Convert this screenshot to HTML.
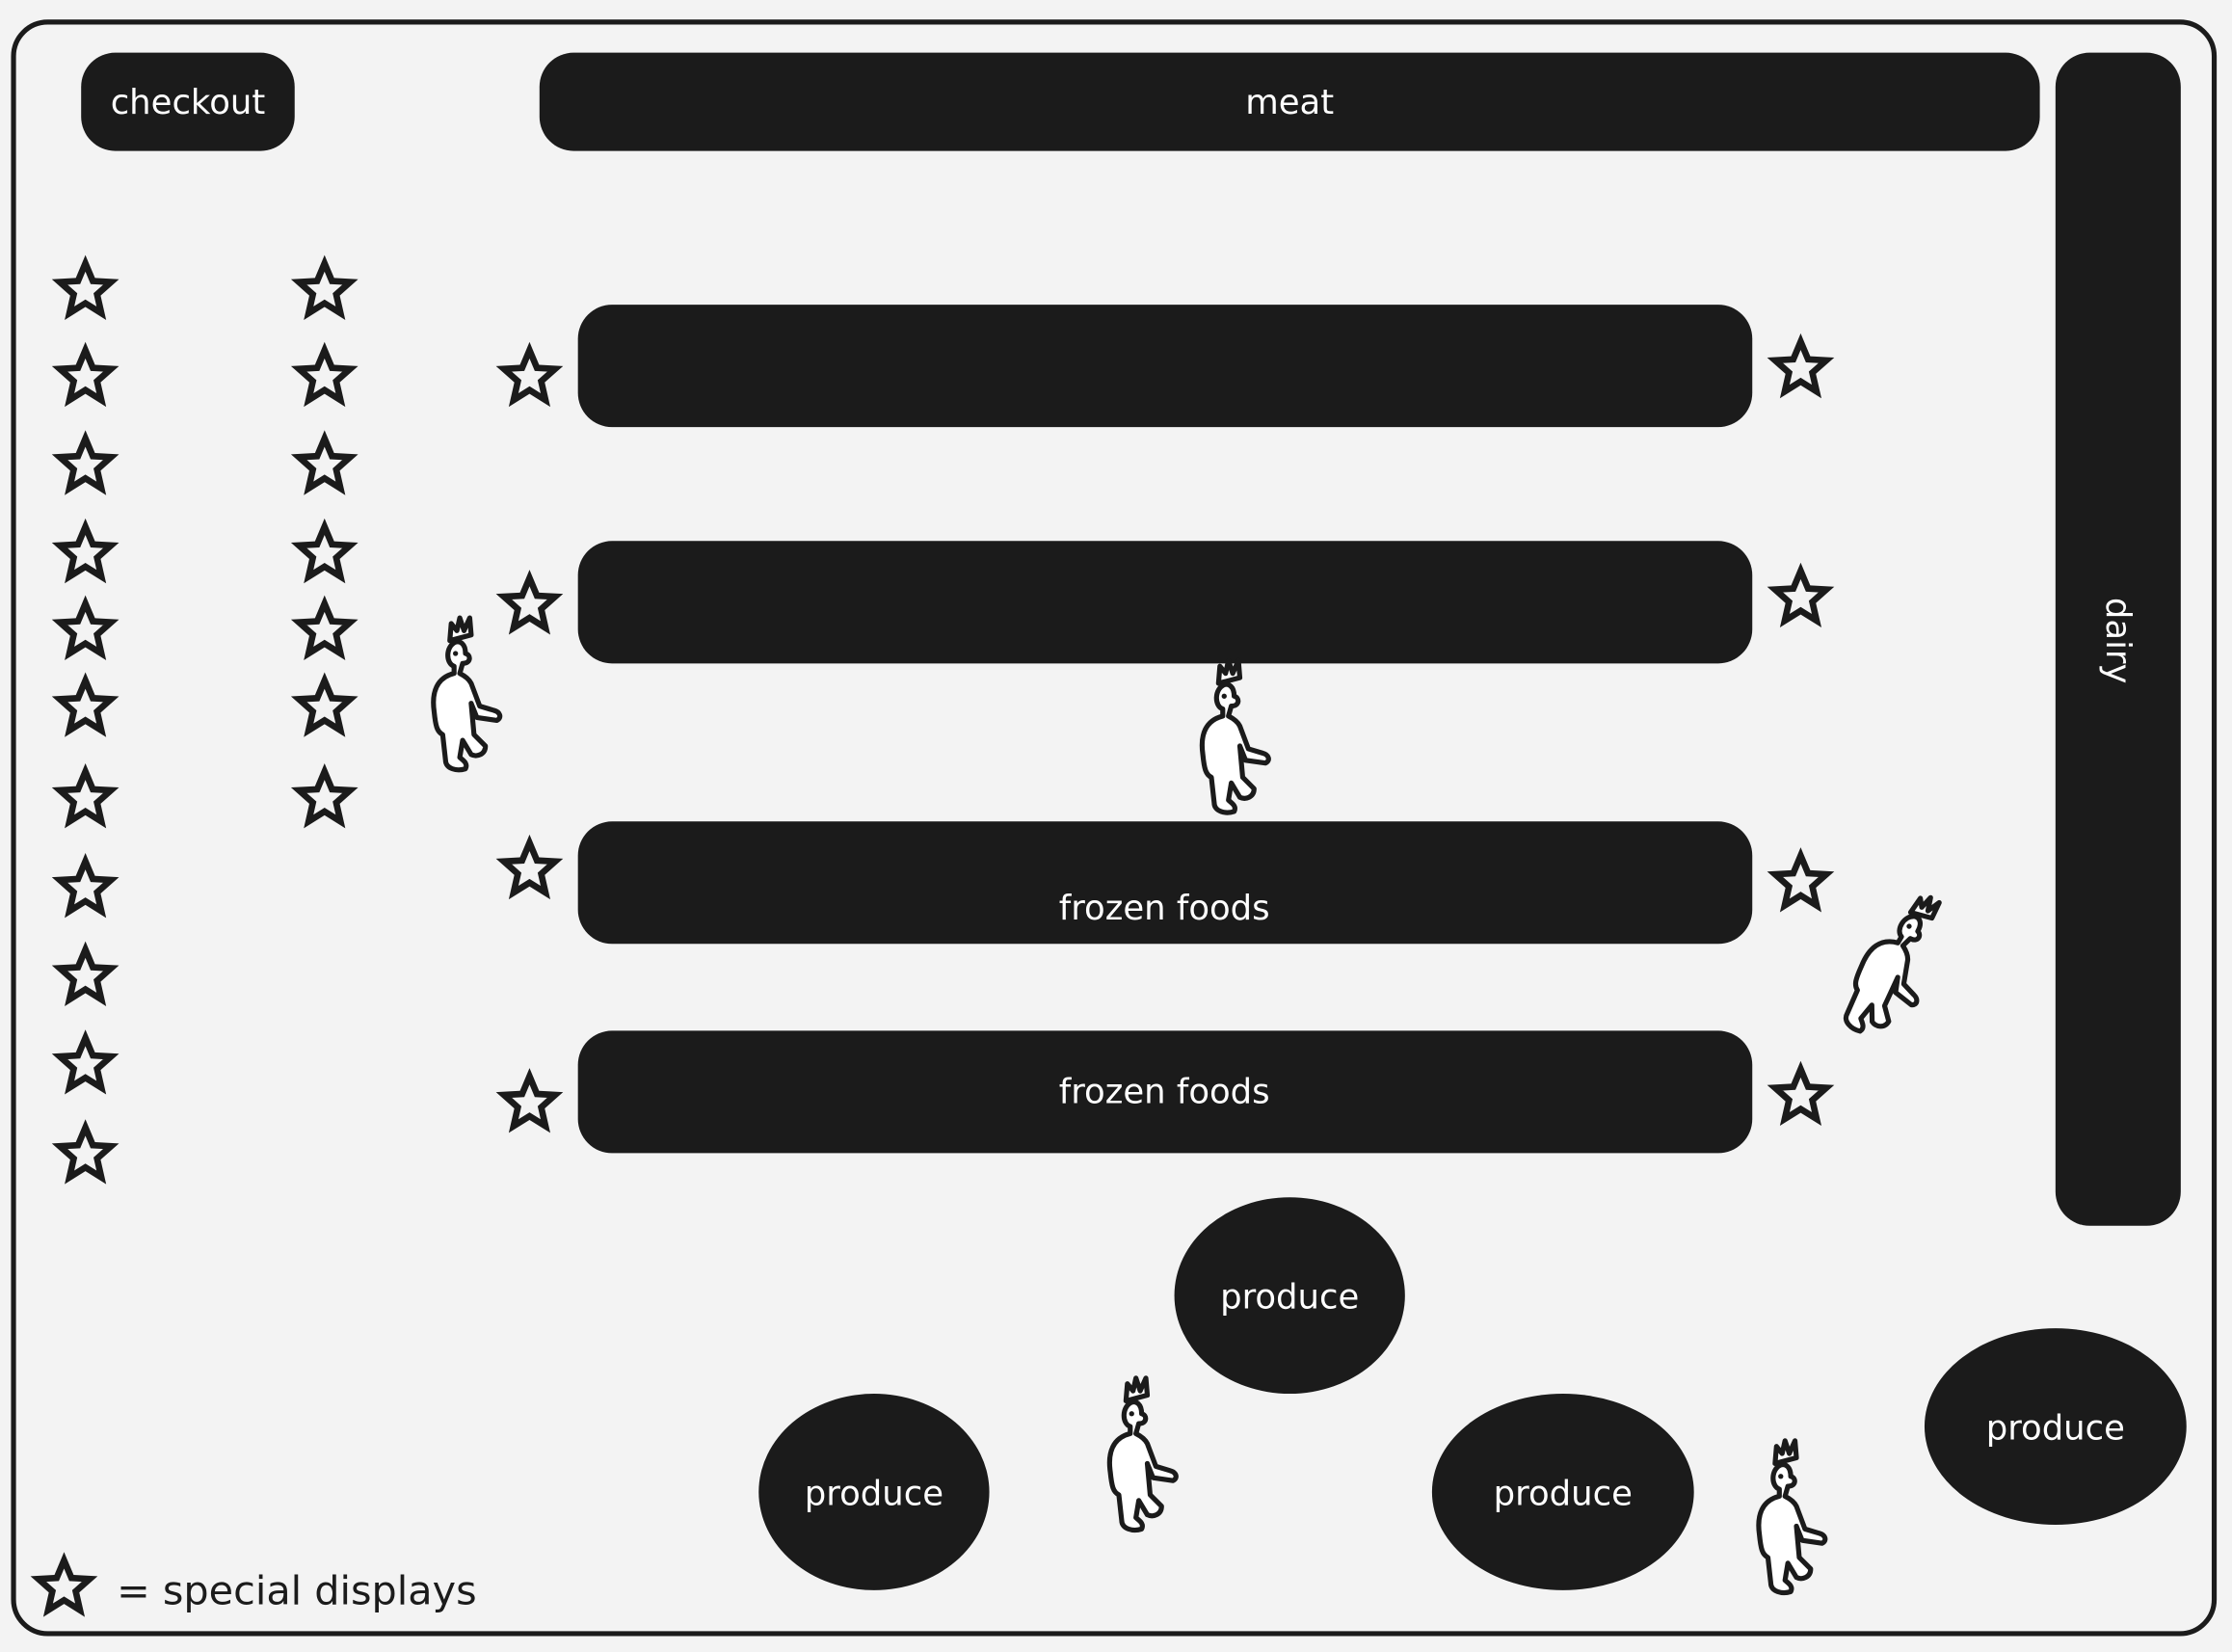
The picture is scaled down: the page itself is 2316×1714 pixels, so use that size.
<!DOCTYPE html>
<html><head><meta charset="utf-8"><style>
html,body{margin:0;padding:0;background:#f3f3f3}
svg{display:block}
text{font-family:"DejaVu Sans","Liberation Sans",sans-serif;fill:#fff;font-size:24px;text-anchor:middle}
</style></head><body>
<svg width="2316" height="1714" viewBox="0 0 1568 1160.4" preserveAspectRatio="none" xmlns="http://www.w3.org/2000/svg">
<defs>
<path id="st" d="M0,-19 L5.2,-6.6 L18,-5.9 L8.2,2.8 L11.2,16 L0,9 L-11.2,16 L-8.2,2.8 L-18,-5.9 L-5.2,-6.6 Z" fill="none" stroke="#1b1b1b" stroke-width="4.5" stroke-linejoin="miter"/>
<g id="fig" fill="#fff" stroke="#1b1b1b" stroke-width="3.5" stroke-linejoin="round" stroke-linecap="round">
<path d="M-8,-52 L-9,-40 L6,-44 L5,-56 L1,-47 L-2,-56 L-4,-47 Z"/>
<path d="M-5,-39 C-12,-36 -12,-24 -6,-22 L-6,-17 C-18,-14 -22,-4 -20,10 C-19,20 -18,24 -14,26 L-12,44 C-12,50 -4,52 2,50 C4,46 0,44 -2,42 L0,30 L6,40 C10,42 16,40 16,34 L8,26 L6,4 L10,14 L24,16 C28,14 26,10 22,9 L12,6 L6,-10 C4,-14 0,-16 -2,-17 L0,-24 C6,-24 6,-30 2,-31 C2,-38 -2,-40 -5,-39 Z"/>
<circle cx="-5" cy="-31" r="1.8" fill="#1b1b1b" stroke="none"/>
</g>
</defs>
<rect width="1568" height="1160.4" fill="#f3f3f3"/>
<rect x="9.5" y="15.5" width="1546" height="1132" rx="24" fill="#f3f3f3" stroke="#1b1b1b" stroke-width="3.5"/>
<g fill="#1b1b1b">
<rect x="57" y="37" width="150" height="69" rx="24"/>
<rect x="379" y="37" width="1054" height="69" rx="24"/>
<rect x="1444" y="37" width="88" height="824" rx="24"/>
<rect x="406" y="214" width="825" height="86" rx="24"/>
<rect x="406" y="380" width="825" height="86" rx="24"/>
<rect x="406" y="577" width="825" height="86" rx="24"/>
<rect x="406" y="724" width="825" height="86" rx="24"/>
<ellipse cx="906" cy="910" rx="81" ry="69"/>
<ellipse cx="614" cy="1048" rx="81" ry="69"/>
<ellipse cx="1098" cy="1048" rx="92" ry="69"/>
<ellipse cx="1444" cy="1002" rx="92" ry="69"/>
</g>
<text x="132" y="80">checkout</text>
<text x="906" y="80">meat</text>
<text x="1488" y="450" transform="rotate(90 1488 450)" dy="8">dairy</text>
<text x="818" y="646">frozen foods</text>
<text x="818" y="775">frozen foods</text>
<text x="906" y="919">produce</text>
<text x="614" y="1057">produce</text>
<text x="1098" y="1057">produce</text>
<text x="1444" y="1011">produce</text>
<g>
<use href="#st" x="60" y="204"/><use href="#st" x="60" y="265"/><use href="#st" x="60" y="327"/><use href="#st" x="60" y="389"/><use href="#st" x="60" y="443"/><use href="#st" x="60" y="497"/><use href="#st" x="60" y="561"/><use href="#st" x="60" y="624"/><use href="#st" x="60" y="686"/><use href="#st" x="60" y="748"/><use href="#st" x="60" y="811"/>
<use href="#st" x="228" y="204"/><use href="#st" x="228" y="265"/><use href="#st" x="228" y="327"/><use href="#st" x="228" y="389"/><use href="#st" x="228" y="443"/><use href="#st" x="228" y="497"/><use href="#st" x="228" y="561"/>
<use href="#st" x="372" y="265"/><use href="#st" x="372" y="425"/><use href="#st" x="372" y="611"/><use href="#st" x="372" y="775"/>
<use href="#st" x="1265" y="259"/><use href="#st" x="1265" y="420"/><use href="#st" x="1265" y="620"/><use href="#st" x="1265" y="770"/>
<use href="#st" x="45" y="1115"/>
</g>
<use href="#fig" x="325" y="490"/>
<use href="#fig" x="865" y="520"/>
<use href="#fig" transform="translate(1330 680) rotate(30)"/>
<use href="#fig" x="800" y="1024"/>
<use href="#fig" x="1256" y="1068"/>
<text x="82" y="1127" style="fill:#1b1b1b;font-size:28px;text-anchor:start">= special displays</text>
</svg>
</body></html>
